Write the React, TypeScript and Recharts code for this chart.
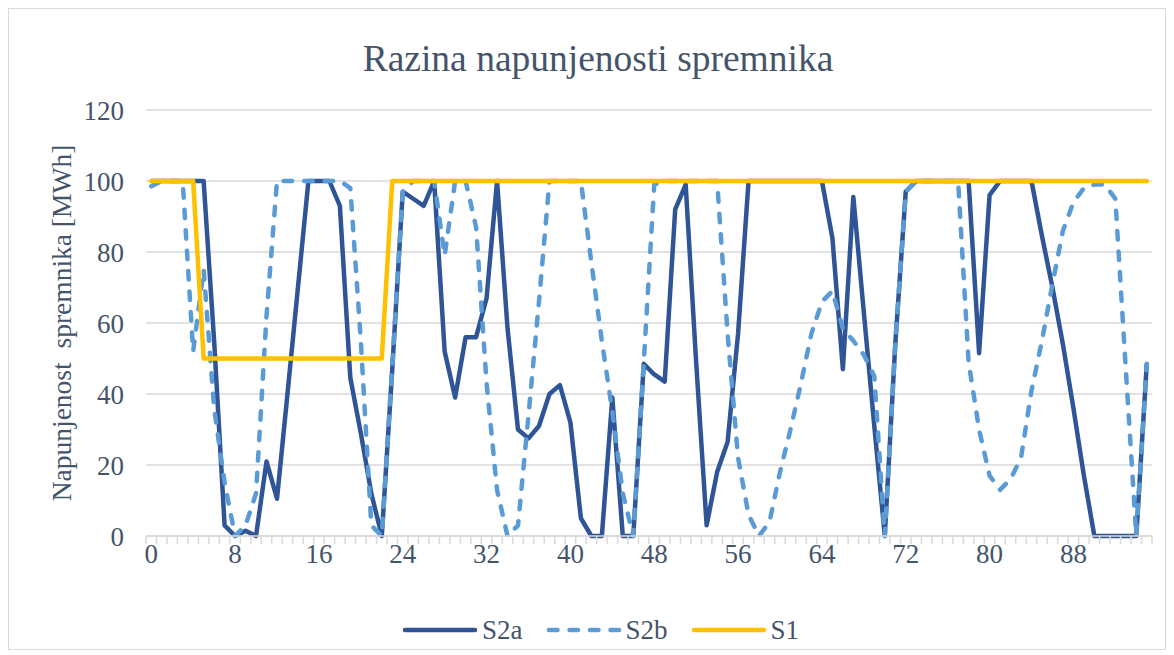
import React from "react";
import { LineChart, Line, XAxis, YAxis, CartesianGrid, Legend } from "recharts";

// hour index 0..95
const hours = Array.from({ length: 96 }, (_, i) => i);

const s2a = [
  100, 100, 100, 100, 100, 100, 55, 3,
  0, 1.5, 0, 21, 10.5, 40, 70, 100,
  100, 100, 93, 44.5, 29, 12, 0, 47,
  97, 95, 93, 100, 52, 39, 56, 56,
  67, 100, 58.5, 30, 27.5, 31, 40, 42.5,
  32, 5, 0, 0, 39, 0, 0, 48.5,
  45.5, 43.5, 92, 99, 49, 3, 18, 26.5,
  57, 100, 100, 100, 100, 100, 100, 100,
  100, 84, 47, 95.5, 63, 31, 0, 54,
  97, 100, 100, 100, 100, 100, 100, 51.5,
  96, 100, 100, 100, 100, 84.5, 70, 54,
  36, 17, 0, 0, 0, 0, 0, 48.5,
];

const s2b = [
  98.5, 100, 100, 100, 52, 75, 36, 15,
  0, 3, 12, 62, 100, 100, 100, 100,
  100, 100, 100, 98, 55, 3, 0, 48,
  97, 100, 100, 100, 79, 100, 100, 87,
  43, 13, 0, 3, 34, 66, 100, 100,
  100, 100, 77, 55, 35, 12, 0, 49,
  99, 100, 100, 100, 100, 100, 100, 57,
  22, 6, 0, 4, 18, 30, 43, 57,
  66, 69, 58.5, 55, 51, 45, 0, 54,
  97, 100, 100, 100, 100, 100, 49, 30,
  17, 13, 16, 22, 41, 55, 71, 86,
  94, 98, 99, 99, 95, 47, 0, 48.5,
];

const s1 = [
  100, 100, 100, 100, 100, 50, 50, 50,
  50, 50, 50, 50, 50, 50, 50, 50,
  50, 50, 50, 50, 50, 50, 50, 100,
  100, 100, 100, 100, 100, 100, 100, 100,
  100, 100, 100, 100, 100, 100, 100, 100,
  100, 100, 100, 100, 100, 100, 100, 100,
  100, 100, 100, 100, 100, 100, 100, 100,
  100, 100, 100, 100, 100, 100, 100, 100,
  100, 100, 100, 100, 100, 100, 100, 100,
  100, 100, 100, 100, 100, 100, 100, 100,
  100, 100, 100, 100, 100, 100, 100, 100,
  100, 100, 100, 100, 100, 100, 100, 100,
];

const xLabels = [0, 8, 16, 24, 32, 40, 48, 56, 64, 72, 80, 88];
const yTicks = [0, 20, 40, 60, 80, 100, 120];

const rows = hours.map((h, i) => ({ h, s2a: s2a[i], s2b: s2b[i], s1: s1[i] }));

// category boundaries for the small tick marks (Excel "between tick marks")
const boundaries = Array.from({ length: hours.length + 1 }, (_, i) => i - 0.5);

const FONT = "'Liberation Serif', 'Times New Roman', serif";
const TEXT = "#44546a";
const GRID = "#d9d9d9";
const W = 1158;
const H = 642;

const legendItems = [
  { name: "S2a", color: "#2f5597", dash: undefined as string | undefined },
  { name: "S2b", color: "#5b9bd5", dash: "8.5 12" },
  { name: "S1", color: "#ffc000", dash: undefined as string | undefined },
];

const XTick = (props: any) => {
  const { x, y, payload } = props;
  const v = payload.value;
  if (Number.isInteger(v)) {
    return (
      <text x={x} y={y + 27} textAnchor="middle" fill={TEXT} fontSize={27} fontFamily={FONT}>
        {v}
      </text>
    );
  }
  return <line x1={x} y1={y} x2={x} y2={y + 8} stroke={GRID} strokeWidth={1.5} />;
};

const YTitle = () => (
  <text
    x={53}
    y={315}
    transform="rotate(-90 53 315)"
    textAnchor="middle"
    dominantBaseline="central"
    fill={TEXT}
    fontSize={27.5}
    fontFamily={FONT}
    style={{ whiteSpace: "pre" }}
  >
    Napunjenost  spremnika [MWh]
  </text>
);

const renderLegend = () => (
  <div
    style={{
      display: "flex",
      alignItems: "center",
      height: 34,
      paddingLeft: 394,
      fontFamily: FONT,
      fontSize: 27,
      color: TEXT,
    }}
  >
    {legendItems.map((item) => (
      <div key={item.name} style={{ display: "flex", alignItems: "center", marginRight: 23 }}>
        <svg width={76} height={10}>
          <line
            x1={3}
            y1={5}
            x2={73}
            y2={5}
            stroke={item.color}
            strokeWidth={4.5}
            strokeLinecap="round"
            strokeDasharray={item.dash}
          />
        </svg>
        <span style={{ marginLeft: 4 }}>{item.name}</span>
      </div>
    ))}
  </div>
);

export default function App() {
  return (
    <div style={{ position: "relative", width: W, height: H, background: "#fff" }}>
      <div
        style={{
          position: "absolute",
          left: 290,
          top: 31,
          width: 600,
          textAlign: "center",
          fontFamily: FONT,
          fontSize: 37.5,
          lineHeight: "40px",
          color: TEXT,
          whiteSpace: "nowrap",
        }}
      >
        Razina napunjenosti spremnika
      </div>
      <LineChart
        width={W}
        height={H}
        data={rows}
        margin={{ top: 102, right: 14, bottom: 3, left: 78 }}
        style={{ position: "absolute", left: 0, top: 0 }}
      >
        <CartesianGrid vertical={false} stroke={GRID} strokeWidth={1.5} />
        <XAxis
          dataKey="h"
          type="number"
          domain={[-0.5, hours.length - 0.5]}
          ticks={[...boundaries, ...xLabels]}
          interval={0}
          tick={<XTick />}
          tickLine={false}
          tickSize={0}
          tickMargin={0}
          height={77}
          axisLine={{ stroke: GRID, strokeWidth: 1.5 }}
        />
        <YAxis
          domain={[0, 120]}
          ticks={yTicks}
          width={60}
          axisLine={false}
          tickLine={false}
          tickSize={0}
          tickMargin={22}
          tick={{ fill: TEXT, fontSize: 27, fontFamily: FONT }}
          label={<YTitle />}
        />
        <Legend verticalAlign="bottom" content={renderLegend} wrapperStyle={{ left: 0, width: W }} />
        <Line
          dataKey="s2a"
          type="linear"
          stroke="#2f5597"
          strokeWidth={4.5}
          strokeLinejoin="round"
          dot={false}
          activeDot={false}
          isAnimationActive={false}
        />
        <Line
          dataKey="s2b"
          type="linear"
          stroke="#5b9bd5"
          strokeWidth={4.5}
          strokeDasharray="8.5 12"
          strokeLinecap="round"
          strokeLinejoin="round"
          dot={false}
          activeDot={false}
          isAnimationActive={false}
        />
        <Line
          dataKey="s1"
          type="linear"
          stroke="#ffc000"
          strokeWidth={4.5}
          strokeLinejoin="round"
          strokeLinecap="round"
          dot={false}
          activeDot={false}
          isAnimationActive={false}
        />
      </LineChart>
      <div
        style={{
          position: "absolute",
          inset: 0,
          border: `1px solid ${GRID}`,
          pointerEvents: "none",
        }}
      />
    </div>
  );
}
